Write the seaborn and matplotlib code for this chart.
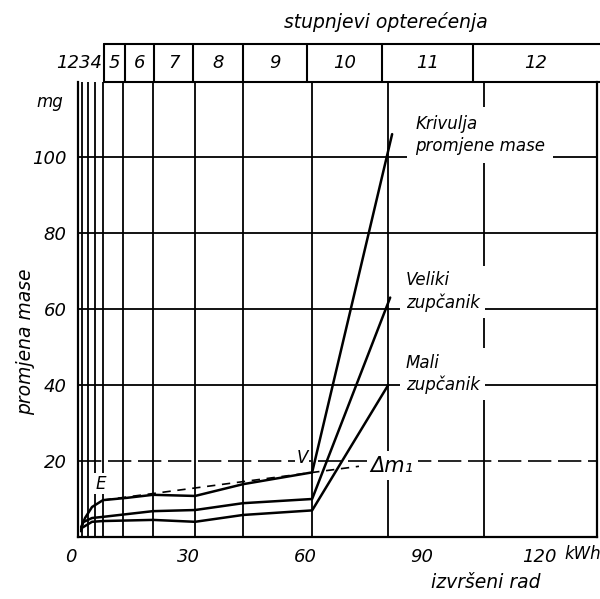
import matplotlib.pyplot as plt
import matplotlib.transforms as mtransforms
import seaborn as sns

# curves (kWh, mg)
x_total = [0.8, 1.8, 3.6, 6.4, 12.5, 19.2, 30, 42.3, 60, 80.5]
y_total = [2.6, 5.0, 7.9, 9.7, 10.3, 11.1, 10.8, 13.9, 17.0, 106]
x_big = [0.8, 1.3, 3.6, 6.4, 19.2, 30, 42.3, 60, 80]
y_big = [2.0, 3.9, 5.0, 5.3, 6.8, 7.1, 8.9, 10.0, 63]
x_small = [0.8, 1.0, 3.6, 6.4, 19.2, 30, 42.3, 60, 79.5]
y_small = [1.5, 2.4, 4.0, 4.2, 4.5, 4.0, 5.8, 7.0, 40]
x_tangent = [6.4, 72]
y_tangent = [9.7, 18.6]

# grid lines (stage boundaries inside the plot) and header cells
grid_x = [1, 2.6, 4.4, 6.4, 11.6, 19.2, 30, 42.3, 60, 79.5, 104]
grid_y = [40, 60, 80, 100]
stage_edges = [6.7, 12.1, 19.5, 29.5, 42.3, 58.7, 78, 101.3, 133]
stage_labels = ["5", "6", "7", "8", "9", "10", "11", "12"]
x_ticks = [0, 30, 60, 90, 120]
y_ticks = [20, 40, 60, 80, 100]

sns.set_style("white")
plt.rcParams['font.family'] = ['DejaVu Sans']
plt.rcParams['font.style'] = 'italic'
plt.rcParams['text.color'] = 'black'
plt.rcParams['xtick.color'] = 'black'
plt.rcParams['ytick.color'] = 'black'

fig = plt.figure(figsize=(6, 5.99), dpi=100)
ax = fig.add_axes([0.13, 0.1035, 0.865, 0.7595])

# grid
for gx in grid_x:
    ax.axvline(gx, color='black', lw=1.3, zorder=1)
for gy in grid_y:
    ax.axhline(gy, color='black', lw=1.3, zorder=1)
ax.axhline(20, color='black', lw=1.2, ls=(0, (14, 4)), zorder=1)

# curves
for xs, ys in [(x_total, y_total), (x_big, y_big), (x_small, y_small)]:
    sns.lineplot(x=xs, y=ys, ax=ax, color='black', lw=1.8, sort=False,
                 estimator=None, zorder=3)
sns.lineplot(x=x_tangent, y=y_tangent, ax=ax, color='black', lw=1.2,
             sort=False, estimator=None, zorder=3, linestyle=(0, (5, 4)))

ax.set_xlim(0, 133)
ax.set_ylim(0, 119.7)

ax.set_xticks(x_ticks)
ax.set_xticklabels([str(v) for v in x_ticks], fontsize=13)
ax.set_yticks(y_ticks)
ax.set_yticklabels([str(v) for v in y_ticks], fontsize=13)
ax.tick_params(length=0, pad=8)
shift = mtransforms.ScaledTranslation(-7 / 100, 0, fig.dpi_scale_trans)
for lab in ax.get_xticklabels():
    lab.set_transform(lab.get_transform() + shift)

for side in ['left', 'bottom', 'right']:
    ax.spines[side].set_color('black')
    ax.spines[side].set_linewidth(1.6)
ax.spines['top'].set_visible(False)

box = dict(facecolor='white', edgecolor='none', pad=4)
ax.text(86.4, 100.5, "Krivulja\npromjene mase", fontsize=12, ha='left',
        va='bottom', linespacing=1.3, bbox=dict(facecolor='white', edgecolor='none', pad=6), zorder=4)
ax.text(84, 59.2, "Veliki\nzupčanik", fontsize=12, ha='left',
        va='bottom', linespacing=1.3, bbox=box, zorder=4)
ax.text(84, 37.5, "Mali\nzupčanik", fontsize=12, ha='left',
        va='bottom', linespacing=1.3, bbox=box, zorder=4)
ax.text(75, 18.8, "Δm₁", fontsize=15, ha='left', va='center',
        bbox=dict(facecolor='white', edgecolor='none', pad=3), zorder=4)
ax.text(56, 20.8, "V", fontsize=12, ha='left', va='center', zorder=4,
        bbox=dict(facecolor='white', edgecolor='none', pad=1))
ax.text(4.5, 14, "E", fontsize=12, ha='left', va='center', zorder=4,
        bbox=dict(facecolor='white', edgecolor='none', pad=1))
ax.text(124.6, -4.5, "kWh", fontsize=12, ha='left', va='center', clip_on=False)

# header with load stages
trans = mtransforms.blended_transform_factory(ax.transData, ax.transAxes)
top = 1.0835
ax.plot([stage_edges[0], 136], [top, top], color='black', lw=1.5,
        transform=trans, clip_on=False)
ax.plot([stage_edges[0], 136], [1.0, 1.0], color='black', lw=1.5,
        transform=trans, clip_on=False)
for e in stage_edges[:-1]:
    ax.plot([e, e], [1.0, top], color='black', lw=1.5, transform=trans,
            clip_on=False)
for lab, a, b in zip(stage_labels, stage_edges[:-1], stage_edges[1:]):
    ax.text((a + b) / 2, 1.042, lab, fontsize=13, ha='center', va='center',
            transform=trans, clip_on=False)
ax.text(6.3, 1.042, "1234", fontsize=13, ha='right', va='center',
        transform=trans, clip_on=False)

fig.text(0.643, 0.963, "stupnjevi opterećenja", fontsize=13.5, ha='center',
         va='center')
fig.text(0.042, 0.43, "promjena mase", fontsize=13.5, ha='center',
         va='center', rotation=90)
fig.text(0.083, 0.83, "mg", fontsize=12, ha='center', va='center')
fig.text(0.81, 0.027, "izvršeni rad", fontsize=13.5, ha='center',
         va='center')

fig.savefig("out.png", dpi=100)
